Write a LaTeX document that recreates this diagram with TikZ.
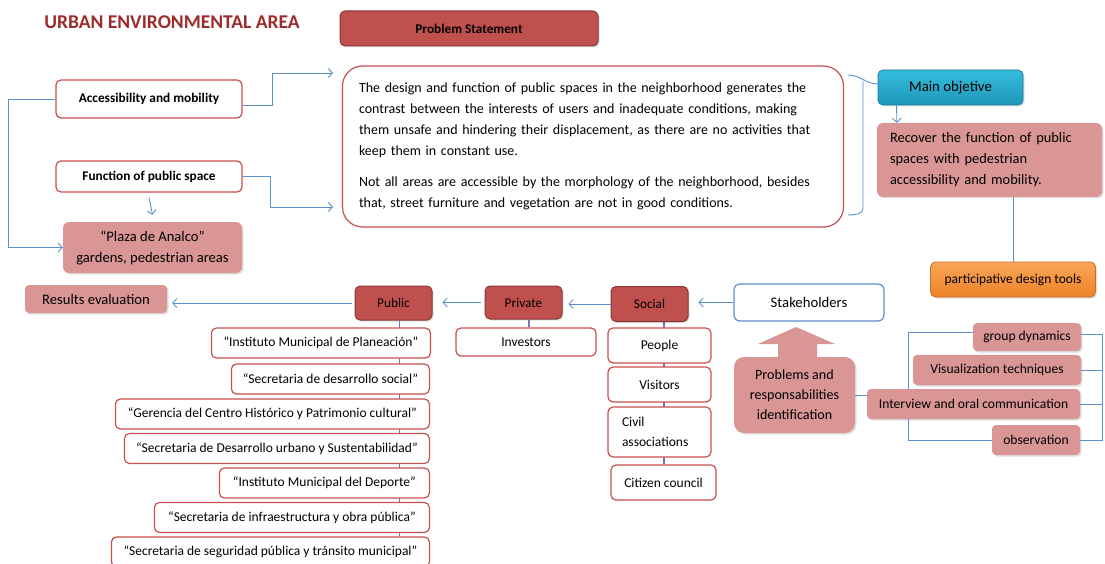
\documentclass[tikz,border=0pt]{standalone}
\usepackage{fontspec}
\setmainfont{Carlito}
\usetikzlibrary{shadows, backgrounds, arrows.meta}

\definecolor{darkred}{HTML}{C0504D}
\definecolor{boxred}{HTML}{C9504F}
\definecolor{pinkfill}{HTML}{D99694}
\definecolor{linkblue}{HTML}{5B8FD0}
\definecolor{vlinkc}{HTML}{7B6FB5}
\definecolor{titlered}{HTML}{9C2B2B}
\definecolor{cyantop}{HTML}{35BCDD}
\definecolor{cyanbot}{HTML}{1E98B8}
\definecolor{orangetop}{HTML}{FAA65A}
\definecolor{orangebot}{HTML}{EC8226}

\begin{document}
\begin{tikzpicture}[x=1pt, y=-1pt, >={Straight Barb[length=4pt, width=9pt]},
    wbox/.style={draw=boxred, line width=1.2pt, fill=white, rounded corners=5pt, inner sep=2pt, font=\fontsize{13.5}{15}\selectfont},
    dbox/.style={draw=darkred!70!black, line width=1pt, fill=darkred, rounded corners=5pt, inner sep=2pt, font=\fontsize{13.3}{15}\selectfont,
        drop shadow={shadow xshift=1.5pt, shadow yshift=-1.5pt, opacity=.25}},
    pbox/.style={fill=pinkfill, rounded corners=6pt, inner sep=2pt, font=\fontsize{14.6}{21}\selectfont,
        drop shadow={shadow xshift=1.5pt, shadow yshift=-1.5pt, opacity=.25}},
    tbox/.style={pbox, rounded corners=4pt, font=\fontsize{13.6}{15}\selectfont},
    link/.style={draw=linkblue, line width=0.9pt},
    vlink/.style={draw=vlinkc, line width=1.2pt}]

%\draw[step=50, color=gray!40] (0,0) grid (1105,564);
\useasboundingbox (0,0) rectangle (1105,564);

\node[font=\bfseries\fontsize{19.5}{22}\selectfont, text=titlered] (title) at (172,22) {URBAN ENVIRONMENTAL AREA};

\node[dbox, minimum width=258pt, minimum height=35pt, font=\bfseries\fontsize{13.3}{15}\selectfont] (prob) at (469,28.5) {Problem Statement};

\node[wbox, rounded corners=20pt, minimum width=501pt, minimum height=161pt, text width=468pt, align=left,
    font=\fontsize{14}{21}\selectfont] (stmt) at (593,146.5)
    {The design and function of public spaces in the neighborhood generates the\\
     contrast between the interests of users and inadequate conditions, making\\
     them unsafe and hindering their displacement, as there are no activities that\\
     keep them in constant use.\\[10pt]
     Not all areas are accessible by the morphology of the neighborhood, besides\\
     that, street furniture and vegetation are not in good conditions.};

\node[wbox, minimum width=186pt, minimum height=38pt, font=\bfseries\fontsize{13.3}{15}\selectfont] (acc) at (149,99) {Accessibility and mobility};
\node[wbox, minimum width=186pt, minimum height=31pt, font=\bfseries\fontsize{13.3}{15}\selectfont] (func) at (149,176.5) {Function of public space};
\node[pbox, minimum width=179pt, minimum height=51pt, align=center] (plaza) at (152.5,247.5) {“Plaza de Analco”\\gardens, pedestrian areas};

\coordinate (lft) at (8,99);
\coordinate (a1) at (333,73);
\coordinate (a2) at (333,207);
\draw[link, ->] (acc.west) -- (lft) |- (plaza.west);
\draw[link, ->] ([yshift=-6pt]acc.east) -- ++(30,0) |- (a1);
\draw[link, ->] (func.east) -- ++(28,0) |- (a2);
\draw[link, ->] ([yshift=-5pt]func.south) -- ([yshift=7pt]plaza.north);

% objective side
\node[draw=cyanbot!80!black, line width=0.8pt, rounded corners=5pt, top color=cyantop, bottom color=cyanbot,
    minimum width=145pt, minimum height=35pt, font=\fontsize{14.8}{16}\selectfont,
    drop shadow={shadow xshift=1.5pt, shadow yshift=-1.5pt, opacity=.25}] (main) at (950.5,87.5) {Main objetive};
\node[pbox, minimum width=225pt, minimum height=74pt, text width=199pt, align=left, font=\fontsize{14.4}{21}\selectfont] (rec) at (989.5,160)
    {Recover the function of public\\spaces with pedestrian\\accessibility and mobility.};
\node[draw=orangebot!85!black, line width=0.8pt, rounded corners=5pt, top color=orangetop, bottom color=orangebot,
    minimum width=165pt, minimum height=35pt, font=\fontsize{13.5}{15}\selectfont,
    drop shadow={shadow xshift=1.5pt, shadow yshift=-1.5pt, opacity=.25}] (part) at (1013,279.5) {participative design tools};

\draw[link] (848,75) to[out=0, in=180] (878,84);
\draw[link] (863,81) -- (863,208) to[out=-90, in=0] (848,215);
\draw[link, ->] ([xshift=19pt]main.south west) -- ([xshift=20pt]rec.north west);
\draw[link] (part.north |- rec.south) -- (part.north);

% stakeholders row
\node[draw=linkblue, line width=1.2pt, fill=white, rounded corners=6pt, minimum width=150pt, minimum height=37pt,
    font=\fontsize{14.7}{16}\selectfont] (stake) at (809,302.5) {Stakeholders};
\node[dbox, minimum width=77pt, minimum height=35pt] (soc) at (649.5,304) {Social};
\node[dbox, minimum width=77pt, minimum height=33pt] (priv) at (523.5,302.5) {Private};
\node[dbox, minimum width=77pt, minimum height=34pt] (pub) at (393.5,303) {Public};
\node[pbox, rounded corners=4pt, minimum width=142pt, minimum height=28pt] (res) at (96,299) {Results evaluation};

\draw[link, ->] (stake.west) -- ([xshift=10pt]soc.east |- stake.west);
\draw[link, ->] (soc.west) -- ([xshift=6pt]priv.east |- soc.west);
\draw[link, ->] ([xshift=-4pt]priv.west) -- ([xshift=10pt]pub.east |- priv.west);
\draw[link, ->] ([xshift=-3pt]pub.west) -- ([xshift=5pt]res.east |- pub.west);

% public
\node[wbox, anchor=east, minimum width=219pt, minimum height=30pt] (ip1) at (431,343) {“Instituto Municipal de Planeación”};
\node[wbox, anchor=east, minimum width=198pt, minimum height=30pt] (ip2) at (430,379) {“Secretaria de desarrollo social”};
\node[wbox, anchor=east, minimum width=314pt, minimum height=30pt] (ip3) at (430,414) {“Gerencia del Centro Histórico y Patrimonio cultural”};
\node[wbox, anchor=east, minimum width=305pt, minimum height=30pt] (ip4) at (430,448.5) {“Secretaria de Desarrollo urbano y Sustentabilidad”};
\node[wbox, anchor=east, minimum width=210pt, minimum height=30pt] (ip5) at (430,483) {“Instituto Municipal del Deporte”};
\node[wbox, anchor=east, minimum width=275pt, minimum height=30pt] (ip6) at (430,517.5) {“Secretaria de infraestructura y obra pública”};
\node[wbox, anchor=east, minimum width=318pt, minimum height=30pt] (ip7) at (430,552) {“Secretaria de seguridad pública y tránsito municipal”};

% private and social
\node[wbox, minimum width=140pt, minimum height=28pt] (inv) at (526,342) {Investors};
\node[wbox, minimum width=103pt, minimum height=35pt] (peo) at (659.5,345.5) {People};
\node[wbox, minimum width=103pt, minimum height=35pt] (vis) at (659.5,384.5) {Visitors};
\node[wbox, minimum width=103pt, minimum height=50pt, text width=75pt, align=left, font=\fontsize{13.5}{20}\selectfont] (civ) at (659.5,432) {Civil\\associations};
\node[wbox, minimum width=105pt, minimum height=35pt] (cit) at (663.5,482.5) {Citizen council};

% problems and tools
\fill[pinkfill] (796,327) -- (835,344) -- (817,344) -- (817,360) -- (778,360) -- (778,344) -- (758,344) -- cycle;
\node[pbox, rounded corners=10pt, minimum width=121pt, minimum height=76pt, align=center, font=\fontsize{14.1}{20}\selectfont] (probs) at (794.5,395)
    {Problems and\\responsabilities\\identification};

\node[tbox, minimum width=108pt, minimum height=28pt] (gd) at (1027,337) {group dynamics};
\node[tbox, minimum width=168pt, minimum height=30pt] (vt) at (997,370) {Visualization techniques};
\node[tbox, minimum width=213pt, minimum height=30pt] (ioc) at (973.5,404) {Interview and oral communication};
\node[tbox, minimum width=88pt, minimum height=30pt] (obs) at (1036,440) {observation};

\coordinate (lb) at (908,0);
\coordinate (rb) at (1102,0);

\begin{pgfonlayer}{background}
\draw[vlink] ([xshift=6pt]pub.south) -- ([xshift=6pt]pub.south |- ip7.north);
\draw[vlink] (inv.north -| 529,0) -- (priv.south -| 529,0);
\draw[vlink] ([xshift=14.5pt]soc.south) -- ([xshift=14.5pt]soc.south |- cit.north);
\draw[link] ([yshift=5pt]gd.west) -| (lb |- obs.west) -- (obs.west);
\draw[link] (probs.east) -- (probs.east -| lb);
\draw[link] ([yshift=3pt]gd.east) -| (rb |- obs.east) -- (obs.east);
\draw[link] (vt.east) -- (vt.east -| rb);
\draw[link] (ioc.east) -- (ioc.east -| rb);
\end{pgfonlayer}

\end{tikzpicture}
\end{document}
